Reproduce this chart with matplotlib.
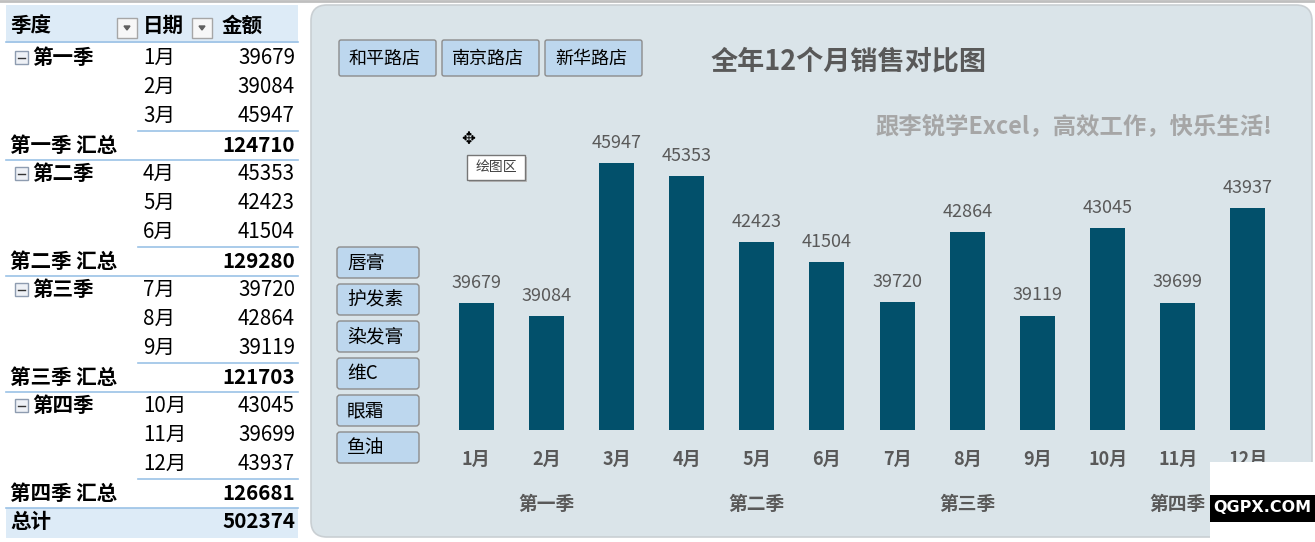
import matplotlib
matplotlib.use("Agg")
import matplotlib.pyplot as plt
from matplotlib.patches import Rectangle, FancyBboxPatch, Polygon
import matplotlib.transforms as mtransforms

plt.rcParams['font.family'] = ['Noto Sans CJK SC', 'DejaVu Sans']

# data
months = ['1月', '2月', '3月', '4月', '5月', '6月',
          '7月', '8月', '9月', '10月', '11月', '12月']
sales = [39679, 39084, 45947, 45353, 42423, 41504,
         39720, 42864, 39119, 43045, 39699, 43937]
quarters = ['第一季', '第二季', '第三季', '第四季']
quarter_totals = [124710, 129280, 121703, 126681]
grand_total = 502374
stores = ['和平路店', '南京路店', '新华路店']
products = ['唇膏', '护发素', '染发膏', '维C', '眼霜', '鱼油']

W, H = 1315, 542
fig = plt.figure(figsize=(W / 100, H / 100), dpi=100)
fig.patch.set_facecolor('white')

# background axes in pixel units (y down)
bg = fig.add_axes([0, 0, 1, 1])
bg.set_xlim(0, W)
bg.set_ylim(H, 0)
bg.axis('off')

bg.plot([0, W], [1, 1], color='#BFBFBF', lw=2)

# ---- pivot table on the left ----
line_c = '#9BC2E6'
fs = 14.8
bg.add_patch(Rectangle((6, 5), 292, 38, facecolor='#DDEBF7', edgecolor='none'))
bg.plot([6, 298], [42, 42], color=line_c, lw=1.2)
bg.text(10, 25, '季度', fontsize=fs, fontweight='bold', va='center')
bg.text(143, 25, '日期', fontsize=fs, fontweight='bold', va='center')
bg.text(222, 25, '金额', fontsize=fs, fontweight='bold', va='center')
for x0 in (117, 192):
    bg.add_patch(Rectangle((x0, 18), 20, 20, facecolor='#F7F7F7', edgecolor='#A6A6A6', lw=1))
    bg.add_patch(Polygon([[x0 + 7, 26], [x0 + 13, 26], [x0 + 10, 30]], color='#606060'))

row0, pitch = 58, 29.0
for q in range(4):
    for m in range(3):
        k = 4 * q + m
        y = row0 + pitch * k
        if m == 0:
            bg.add_patch(Rectangle((15, y - 7), 13, 13, facecolor='#EEF1F6', edgecolor='#8E9CB0', lw=1))
            bg.plot([18, 25], [y - 0.5, y - 0.5], color='#333333', lw=1)
            bg.text(32, y, quarters[q], fontsize=fs, fontweight='bold', va='center')
        bg.text(143, y, months[3 * q + m], fontsize=fs, va='center')
        bg.text(295, y, str(sales[3 * q + m]), fontsize=fs, va='center', ha='right')
    bg.plot([138, 298], [row0 + pitch * (4 * q + 2) + 14.5] * 2, color=line_c, lw=1.2)
    y = row0 + pitch * (4 * q + 3)
    bg.text(10, y, quarters[q] + ' 汇总', fontsize=fs, fontweight='bold', va='center')
    bg.text(295, y, str(quarter_totals[q]), fontsize=fs, fontweight='bold', va='center', ha='right')
    bg.plot([6, 298], [y + 14.5] * 2, color=line_c, lw=1.2)
yt = row0 + pitch * 16
bg.add_patch(Rectangle((6, yt - 14.5), 292, 30, facecolor='#DDEBF7', edgecolor='none'))
bg.text(10, yt, '总计', fontsize=fs, fontweight='bold', va='center')
bg.text(295, yt, str(grand_total), fontsize=fs, fontweight='bold', va='center', ha='right')

# ---- chart panel ----
bg.add_patch(FancyBboxPatch((311, 5), 1001, 532, boxstyle='round,pad=0,rounding_size=16',
                            facecolor='#DAE4E9', edgecolor='#C9CFD3', lw=1.2))

for i, s in enumerate(stores):
    x0 = [339, 442, 545][i]
    bg.add_patch(FancyBboxPatch((x0, 40), 97, 36, boxstyle='round,pad=0,rounding_size=2',
                                facecolor='#BDD7EE', edgecolor='#8C8C8C', lw=1))
    bg.text(x0 + 10, 59, s, fontsize=13, va='center')

for i, p in enumerate(products):
    y0 = 247 + 37 * i
    bg.add_patch(FancyBboxPatch((337, y0), 82, 31, boxstyle='round,pad=0,rounding_size=3',
                                facecolor='#BDD7EE', edgecolor='#8C8C8C', lw=1))
    bg.text(347, y0 + 16, p, fontsize=13.5, va='center')

bg.text(849, 62, '全年12个月销售对比图', fontsize=19.5, fontweight='bold',
        color='#595959', ha='center', va='center')
bg.text(1272, 126, '跟李锐学Excel，高效工作，快乐生活!', fontsize=16.8, fontweight='bold',
        color='#A6A6A6', ha='right', va='center')

# ---- bar chart ----
x_left, x_right, y_base, y_top = 441, 1283, 430, 117
ax = fig.add_axes([x_left / W, (H - y_base) / H, (x_right - x_left) / W, (y_base - y_top) / H])
ax.patch.set_alpha(0)
xs = list(range(len(months)))
bars = ax.bar(xs, sales, width=0.5, color='#02506B')
ax.set_xlim(-0.5, len(months) - 0.5)
ax.set_ylim(34000, 48000)
ax.bar_label(bars, labels=[str(v) for v in sales], padding=8, fontsize=13, color='#595959')
for s in ax.spines.values():
    s.set_visible(False)
ax.set_yticks([])
ax.set_xticks(xs)
ax.set_xticklabels(months, fontsize=13, fontweight='bold', color='#595959')
ax.tick_params(axis='x', length=0, pad=14)
trans = mtransforms.blended_transform_factory(ax.transData, ax.transAxes)
for q, name in enumerate(quarters):
    ax.text(3 * q + 1, (y_base - 505) / (y_base - y_top), name, transform=trans,
            fontsize=13.5, fontweight='bold', color='#595959', ha='center', va='center')

# tooltip
bg.add_patch(Rectangle((469, 157), 58, 25, facecolor='#BBBBBB', edgecolor='none', zorder=5))
bg.add_patch(Rectangle((467, 155), 58, 25, facecolor='white', edgecolor='#767676', lw=1, zorder=6))
bg.text(496, 167.5, '绘图区', fontsize=10, ha='center', va='center', color='#404040', zorder=7)
bg.text(468, 139, '✥', fontsize=12, ha='center', va='center', color='black',
        family='DejaVu Sans', zorder=7)

# watermark corner
wm = fig.add_axes([0, 0, 1, 1])
wm.set_xlim(0, W)
wm.set_ylim(H, 0)
wm.axis('off')
wm.add_patch(Rectangle((1210, 462), 105, 80, facecolor='white', edgecolor='none'))
wm.add_patch(Rectangle((1210, 495), 105, 27, facecolor='black', edgecolor='none'))
wm.text(1262, 508, 'QGPX.COM', fontsize=11.5, fontweight='bold', color='white',
        ha='center', va='center', family='DejaVu Sans')

fig.savefig('out.png', dpi=100)
